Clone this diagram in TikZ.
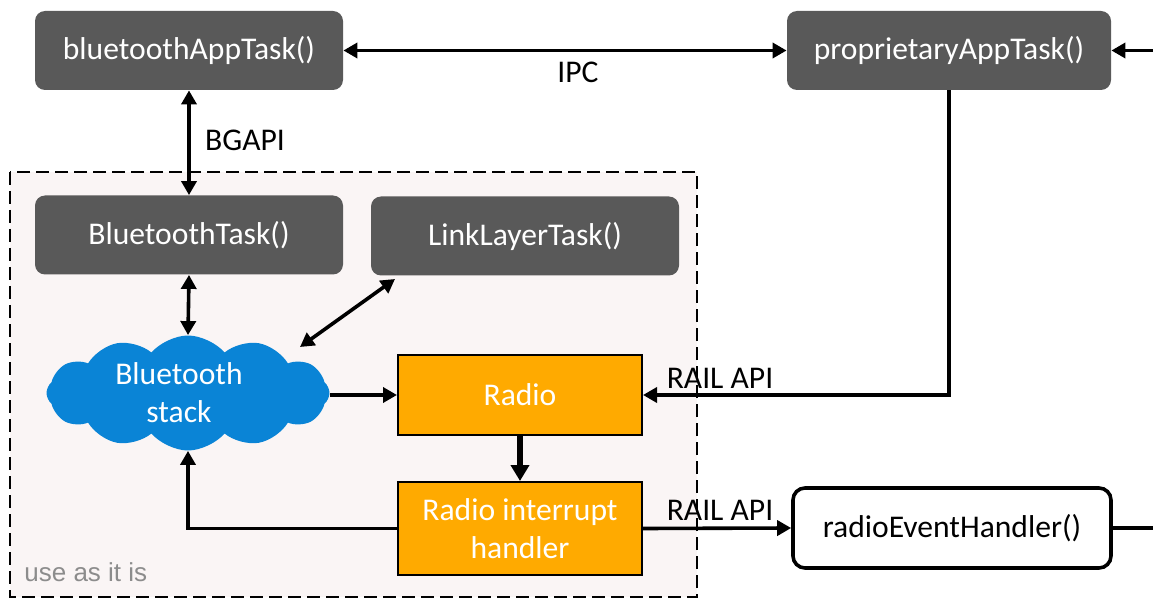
\documentclass[tikz,border=0pt]{standalone}
\usepackage{fontspec}
\setmainfont{Carlito}
\newfontfamily\notefont{Liberation Sans}
\usetikzlibrary{arrows.meta,shapes.symbols}
\definecolor{taskgray}{HTML}{595959}
\definecolor{radioorange}{HTML}{FFAA00}
\definecolor{stackblue}{HTML}{0A84D6}
\definecolor{zonepink}{HTML}{FAF5F5}
\definecolor{notegray}{HTML}{8C8C8C}
\tikzset{
	bigfont/.style={font=\fontsize{15.8}{19}\selectfont},
	taskbox/.style={bigfont, fill=taskgray, text=white, rounded corners=5pt,
		minimum width=154pt, minimum height=39.5pt, inner sep=0pt},
	radiobox/.style={bigfont, fill=radioorange, draw=black, line width=1pt, text=white,
		minimum width=122pt, minimum height=40pt, align=center, inner sep=0pt},
	link/.style={line width=1.8pt, >={Triangle[length=7pt,width=7.5pt]}},
	apilabel/.style={bigfont, inner sep=0pt}
}

\begin{document}
\begin{tikzpicture}[x=0.5pt, y=-0.5pt]
			%%%%% START %%%%%
			\useasboundingbox (0,0) rectangle (1153,599);
			
			% the part that is used as it is
			\draw[fill=zonepink, line width=1.2pt, dash pattern=on 6.5pt off 3pt] (10,172) rectangle (697,597);
			\node[notegray, anchor=west, inner sep=0pt, font=\notefont\fontsize{13}{15}\selectfont] (usenote) at (24,572) {use as it is};
			
			% tasks
			\node[taskbox] (btapp) at (189,50.5) {bluetoothAppTask()};
			\node[taskbox, minimum width=162pt] (propapp) at (949,50.5) {proprietaryAppTask()};
			\node[taskbox] (bttask) at (189,235) {BluetoothTask()};
			\node[taskbox] (lltask) at (525,236) {LinkLayerTask()};
			
			\node[cloud, cloud puffs=12, cloud puff arc=100, aspect=2.4, fill=stackblue,
				minimum width=141.5pt, minimum height=57.5pt, inner sep=0pt] (stack) at (188,393) {};
			\node[bigfont, text=white, align=center, inner sep=0pt] (stacktext) at (179,393) {Bluetooth\\stack};
			
			\node[radiobox] (radio) at (520,395) {Radio};
			\node[radiobox, minimum height=46.5pt] (handler) at (520,528.5) {Radio interrupt\\handler};
			
			\node[bigfont, draw=black, fill=white, line width=1.8pt, rounded corners=6pt,
				minimum width=159pt, minimum height=40pt, inner sep=0pt] (evthandler) at (952,528) {radioEventHandler()};
			
			\coordinate (eastin) at (1153,50.5);
			\coordinate (eastout) at (1153,528);
			\coordinate (llfoot) at (395,279);
			\coordinate (stackpuff) at (300,347);
			
			% connectors
			\draw[link, <->] (btapp.east) -- (propapp.west);
			\node[apilabel] (ipc) at (578,72) {IPC};
			\draw[link, ->] (eastin) -- (propapp.east);
			
			\draw[link, <->] (btapp.south) -- (bttask.north);
			\node[apilabel] (bgapi) at (245,140) {BGAPI};
			
			\draw[link, <->] (bttask.south) -- (stack.north);
			\draw[link, <->] (llfoot) -- (stackpuff);
			\draw[link, ->] (radio.west -| stack.east) -- (radio.west);
			\draw[line width=3.2pt, -{Triangle[length=8pt,width=9pt]}] (radio.south) -- (handler.north);
			\draw[link, ->] (handler.west) -| (stack.south);
			
			\draw[link, ->] (propapp.south) |- (radio.east);
			\node[apilabel] (railtop) at (720,378) {RAIL API};
			\draw[link, ->] (handler.east) -- (evthandler.west);
			\node[apilabel] (railbottom) at (720,510) {RAIL API};
			\draw[link] (evthandler.east) -- (eastout);
			
			%%%%% END %%%%%
\end{tikzpicture}
\end{document}
